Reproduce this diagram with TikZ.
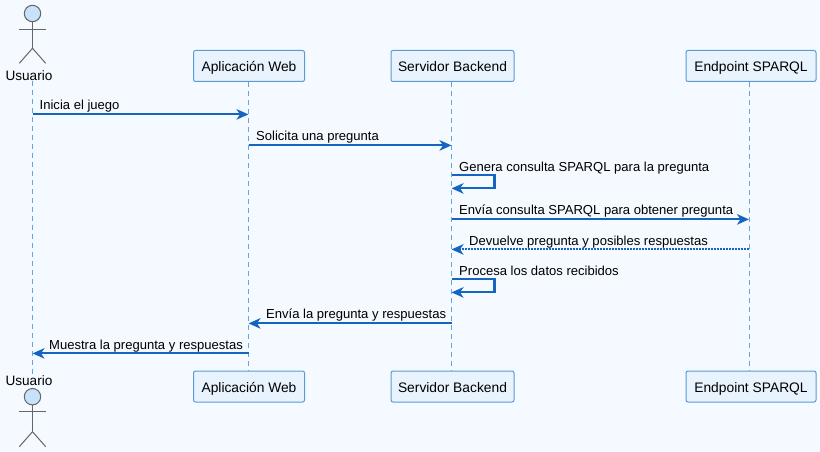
\documentclass[tikz,border=0pt]{standalone}
\usepackage{fontspec}
\setmainfont{Liberation Sans}
\usetikzlibrary{arrows.meta}
\definecolor{bgc}{HTML}{F4FAFF}
\definecolor{boxfill}{HTML}{E8F3FE}
\definecolor{boxline}{HTML}{5B9BD5}
\definecolor{msgc}{HTML}{1565C0}
\definecolor{lifec}{HTML}{64A5E0}
\definecolor{headc}{HTML}{C8E2FC}
\definecolor{actc}{HTML}{666666}
\tikzset{
  x=1pt,y=-1pt,
  part/.style={draw=boxline,fill=boxfill,rounded corners=2pt,line width=1pt,minimum height=31pt,inner sep=0pt,text height=12pt,text depth=1pt,font=\fontsize{13.8}{15}\selectfont,text=black},
  lifeline/.style={draw=lifec,line width=1pt,dash pattern=on 5pt off 4pt},
  msg/.style={draw=msgc,line width=2.1pt,-{Stealth[length=12pt,width=10.5pt,inset=3.5pt]}},
  ret/.style={msg,dash pattern=on 1.8pt off 1.2pt,-{Stealth[length=12pt,width=10.5pt,inset=3.5pt,sep=0pt]}},
  lab/.style={anchor=base west,inner sep=0pt,font=\fontsize{13.05}{15}\selectfont,text=black},
  actname/.style={inner sep=0pt,font=\fontsize{13.6}{16}\selectfont,text=black},
  limb/.style={draw=actc,line width=1pt},
  head/.style={draw=actc,fill=headc,line width=1pt},
}
\begin{document}
\begin{tikzpicture}
\useasboundingbox[fill=bgc] (0,0) rectangle (820,452);
% participants
\node[part,minimum width=111pt] (appT) at (249,66) {Aplicación Web};
\node[part,minimum width=123pt] (srvT) at (452.5,66) {Servidor Backend};
\node[part,minimum width=130pt] (endT) at (751,66) {Endpoint SPARQL};
\node[part,minimum width=111pt] (appB) at (249,386.5) {Aplicación Web};
\node[part,minimum width=123pt] (srvB) at (452.5,386.5) {Servidor Backend};
\node[part,minimum width=130pt] (endB) at (751,386.5) {Endpoint SPARQL};
\node[actname] (usrT) at (29,75.5) {Usuario};
\node[actname] (usrB) at (29,380.5) {Usuario};
% lifeline ends, taken from the participant nodes
\coordinate (uA) at ([xshift=3.5pt]usrT.south);
\coordinate (uZ) at ([xshift=3.5pt]usrB.north);
\coordinate (aA) at ([xshift=-.5pt]appT.south);
\coordinate (aZ) at ([xshift=-.5pt]appB.north);
\coordinate (sA) at ([xshift=-1pt]srvT.south);
\coordinate (sZ) at ([xshift=-1pt]srvB.north);
\coordinate (eA) at ([xshift=-2pt]endT.south);
\coordinate (eZ) at ([xshift=-2pt]endB.north);
\draw[lifeline] (uA) -- (uZ);
\draw[lifeline] (aA) -- (aZ);
\draw[lifeline] (sA) -- (sZ);
\draw[lifeline] (eA) -- (eZ);
% actors
\foreach \n/\hy/\ay/\ly/\fy in {t/13.5/29.3/48.3/63.3,b/396.7/411.7/431.7/446.7}{
  \draw[limb] (32.5,\hy) -- (32.5,\ly);
  \draw[limb] (19.3,\ay) -- (45.7,\ay);
  \draw[limb] (19.3,\fy) -- (32.5,\ly) -- (45.7,\fy);
  \draw[head] (32.5,\hy) circle[radius=8.2];
}
% message rows
\coordinate (r1) at (0,114.4);
\coordinate (r2) at (0,145.4);
\coordinate (r3) at (0,175.4);
\coordinate (r3b) at (0,188.4);
\coordinate (r4) at (0,219.4);
\coordinate (r5) at (0,249.4);
\coordinate (r6) at (0,279.4);
\coordinate (r6b) at (0,292.4);
\coordinate (r7) at (0,323.4);
\coordinate (r8) at (0,353.4);
% messages
\draw[msg] (uA |- r1) -- (aA |- r1);
\node[lab] (m1) at (39.5,109.5) {Inicia el juego};
\draw[msg] (aA |- r2) -- (sA |- r2);
\node[lab] (m2) at (256,140) {Solicita una pregunta};
\draw[msg] (sA |- r3) -- ++(43,0) -- ++(0,13) -- (sA |- r3b);
\node[lab] (m3) at (459,171) {Genera consulta SPARQL para la pregunta};
\draw[msg] (sA |- r4) -- (eA |- r4);
\node[lab] (m4) at (459,214) {Envía consulta SPARQL para obtener pregunta};
\draw[ret] (eA |- r5) -- (sA |- r5);
\node[lab] (m5) at (469,245) {Devuelve pregunta y posibles respuestas};
\draw[msg] (sA |- r6) -- ++(43,0) -- ++(0,13) -- (sA |- r6b);
\node[lab] (m6) at (459,275) {Procesa los datos recibidos};
\draw[msg] (sA |- r7) -- (aA |- r7);
\node[lab] (m7) at (266,318) {Envía la pregunta y respuestas};
\draw[msg] (aA |- r8) -- (uA |- r8);
\node[lab] (m8) at (49,349) {Muestra la pregunta y respuestas};
\end{tikzpicture}
\end{document}
